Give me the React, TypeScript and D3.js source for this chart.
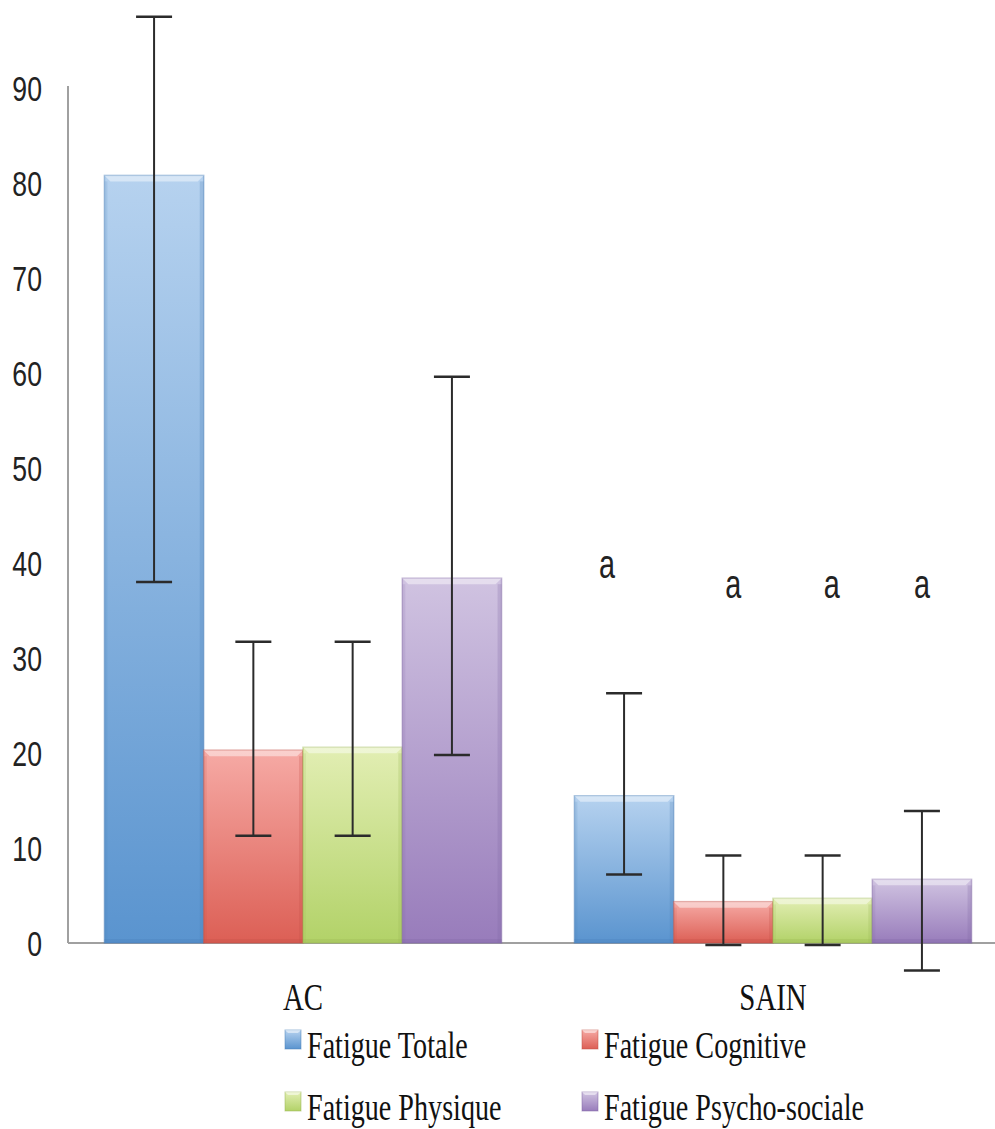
import React from "react";
import * as d3 from "d3";

const groups = ["AC", "SAIN"];
const series = ["Fatigue Totale", "Fatigue Cognitive", "Fatigue Physique", "Fatigue Psycho-sociale"];
// values[series][group]
const means = [
  [80.8, 15.5],
  [20.3, 4.35],
  [20.6, 4.7],
  [38.4, 6.7],
];
const errHigh = [
  [97.5, 26.3],
  [31.7, 9.2],
  [31.7, 9.2],
  [59.6, 13.9],
];
const errLow = [
  [38.0, 7.2],
  [11.3, -0.2],
  [11.3, -0.2],
  [19.8, -2.9],
];
// significance letters on SAIN group
const sigLabels = ["a", "a", "a", "a"];
const sigValues = [38.4, 36.3, 36.3, 36.3];
const yTicks = [0, 10, 20, 30, 40, 50, 60, 70, 80, 90];

const colorsTop = ["#b6d2ef", "#f6aaa5", "#e2eeb3", "#d0c3e1"];
const colorsBot = ["#5a94cf", "#dc5f55", "#b2d268", "#987cbb"];
const colorsEdge = ["#4a7fb8", "#c24f46", "#98b652", "#8166a5"];

export default function App() {
  const W = 995, H = 1129;
  const x0 = 68, yBase = 943;
  const y = d3.scaleLinear().domain([0, 90]).range([yBase, 88]);
  const xg = d3.scaleBand().domain(groups).range([x0, 1008]).paddingInner(0.155).paddingOuter(0.0775);
  const xs = d3.scaleBand().domain(series).range([0, xg.bandwidth()]);
  const bw = xs.bandwidth();
  const capW = 36;
  const serif = "'Liberation Serif', 'Times New Roman', serif";
  const sans = "'Liberation Sans', Arial, sans-serif";

  return (
    <svg width={W} height={H} style={{ display: "block", position: "absolute", left: 0, top: 0 }}>
      <defs>
        {series.map((s, i) => (
          <linearGradient key={s} id={`g${i}`} x1="0" y1="0" x2="0" y2="1">
            <stop offset="0" stopColor={colorsTop[i]} />
            <stop offset="1" stopColor={colorsBot[i]} />
          </linearGradient>
        ))}
      </defs>
      <rect width={W} height={H} fill="#fff" />
      {/* axes */}
      <line x1={x0} x2={x0} y1={y(90) - 2} y2={yBase} stroke="#a0a0a0" strokeWidth={2} />
      <line x1={x0} x2={W} y1={yBase} y2={yBase} stroke="#a0a0a0" strokeWidth={2} />
      {yTicks.map((t) => (
        <text
          key={t}
          transform={`translate(42,${y(t)}) scale(0.74,1)`}
          dy="0.36em"
          textAnchor="end"
          fontFamily={sans}
          fontSize={36}
          fill="#222"
        >
          {t}
        </text>
      ))}
      {/* bars */}
      {groups.map((g, gi) =>
        series.map((s, si) => {
          const bx = (xg(g) as number) + (xs(s) as number);
          const top = y(means[si][gi]);
          const h = yBase - top;
          const bev = Math.min(6, h / 2);
          return (
            <g key={g + s}>
              <rect x={bx} y={top} width={bw} height={h} fill={`url(#g${si})`} stroke={colorsEdge[si]} strokeOpacity={0.45} strokeWidth={1.5} />
              <polygon
                points={`${bx},${top} ${bx + bw},${top} ${bx + bw - bev},${top + bev} ${bx + bev},${top + bev}`}
                fill="#fff"
                opacity={0.45}
              />
              <rect x={bx + bw - 4} y={top + bev} width={4} height={h - bev} fill={colorsEdge[si]} opacity={0.25} />
              <rect x={bx} y={top + bev} width={3} height={h - bev} fill={colorsEdge[si]} opacity={0.15} />
              <rect x={bx} y={yBase - 4} width={bw} height={4} fill={colorsEdge[si]} opacity={0.3} />
            </g>
          );
        })
      )}
      {/* error bars */}
      {groups.map((g, gi) =>
        series.map((s, si) => {
          const cx = (xg(g) as number) + (xs(s) as number) + bw / 2;
          const yh = y(errHigh[si][gi]);
          const yl = y(errLow[si][gi]);
          return (
            <g key={"e" + g + s} stroke="#2b2b2b">
              <line x1={cx} x2={cx} y1={yh} y2={yl} strokeWidth={2} />
              <line x1={cx - capW / 2} x2={cx + capW / 2} y1={yh} y2={yh} strokeWidth={2.5} />
              <line x1={cx - capW / 2} x2={cx + capW / 2} y1={yl} y2={yl} strokeWidth={2.5} />
            </g>
          );
        })
      )}
      {/* significance letters */}
      {series.map((s, si) => {
        const cx = (xg("SAIN") as number) + (xs(s) as number) + bw / 2 + (si === 0 ? -17 : si === 1 ? 10 : si === 2 ? 9 : 0);
        return (
          <text
            key={"a" + s}
            transform={`translate(${cx},${y(sigValues[si])}) scale(0.72,1)`}
            textAnchor="middle"
            fontFamily={sans}
            fontSize={40}
            fill="#222"
          >
            {sigLabels[si]}
          </text>
        );
      })}
      {/* category labels */}
      {groups.map((g) => (
        <text
          key={g}
          transform={`translate(${(xg(g) as number) + xg.bandwidth() / 2},1010) scale(0.78,1)`}
          textAnchor="middle"
          fontFamily={serif}
          fontSize={37}
          fill="#111"
        >
          {g}
        </text>
      ))}
      {/* legend */}
      {series.map((s, i) => {
        const lx = i % 2 === 0 ? 285 : 582;
        const ly = i < 2 ? 1058 : 1120;
        return (
          <g key={"l" + s}>
            <rect x={lx} y={ly - 28} width={16} height={19} fill={`url(#g${i})`} stroke={colorsEdge[i]} strokeOpacity={0.5} />
            <polygon points={`${lx},${ly - 28} ${lx + 16},${ly - 28} ${lx + 13},${ly - 25} ${lx + 3},${ly - 25}`} fill="#fff" opacity={0.5} />
            <text transform={`translate(${lx + 22},${ly}) scale(0.76,1)`} fontFamily={serif} fontSize={37} fill="#111">
              {s}
            </text>
          </g>
        );
      })}
    </svg>
  );
}
